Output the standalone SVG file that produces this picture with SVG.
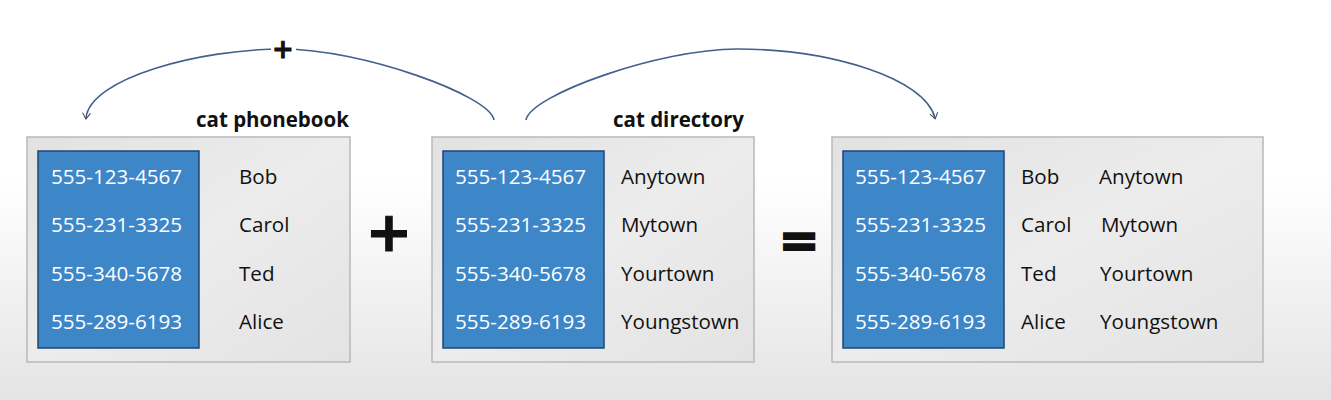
<svg xmlns="http://www.w3.org/2000/svg" width="1331" height="400" viewBox="0 0 1331 400">
<defs>
<linearGradient id="bg" x1="0" y1="0" x2="0" y2="1">
<stop offset="0" stop-color="#ffffff"/>
<stop offset="0.45" stop-color="#ffffff"/>
<stop offset="1" stop-color="#e4e4e4"/>
</linearGradient>
<linearGradient id="boxg" x1="0" y1="0" x2="1" y2="1">
<stop offset="0" stop-color="#e2e2e2"/>
<stop offset="0.5" stop-color="#ececec"/>
<stop offset="1" stop-color="#e3e3e3"/>
</linearGradient>
<marker id="arr" viewBox="0 0 12 12" refX="6" refY="6" markerWidth="12" markerHeight="12" markerUnits="userSpaceOnUse" orient="auto">
<path d="M1,2 L7,6 L1,10" fill="none" stroke="#444" stroke-width="1"/>
</marker>
<style>
.box{fill:url(#boxg);stroke:#b9b9b9;stroke-width:1.5}
.key{fill:#3d86c8;stroke:#1f4570;stroke-width:1.5}
.ph{font-family:"Open Sans","DejaVu Sans",sans-serif;font-size:20.6px;fill:#ffffff}
.tx{font-family:"Open Sans","DejaVu Sans",sans-serif;font-size:20.6px;fill:#111111}
.ttl{font-family:"Open Sans","DejaVu Sans",sans-serif;font-size:20.5px;font-weight:bold;fill:#111111}
.op{font-family:"DejaVu Sans",sans-serif;font-weight:bold;fill:#111111;stroke:#111111;text-anchor:middle}
.arc{fill:none;stroke:#41608e;stroke-width:1.6}
</style>
</defs>
<rect x="0" y="0" width="1331" height="400" fill="url(#bg)"/>

<g id="connectors">
<path class="arc" d="M494,120 C490,95 360,49 283,49 C200,49 90,78 86,118" marker-end="url(#arr)"/>
<path class="arc" d="M526,120 C530,95 660,49 737,49 C830,49 925,78 935,118" marker-end="url(#arr)"/>
<rect x="271" y="38" width="25" height="22" fill="#ffffff"/>
<text class="op" x="283" y="58" font-size="26" stroke-width="0.8">+</text>
</g>

<g id="phonebook">
<text class="ttl" x="196" y="127">cat phonebook</text>
<rect class="box" x="27" y="137" width="323" height="225"/>
<rect class="key" x="38" y="151" width="161" height="197"/>
<text class="ph" x="51" y="184">555-123-4567</text>
<text class="ph" x="51" y="232">555-231-3325</text>
<text class="ph" x="51" y="281">555-340-5678</text>
<text class="ph" x="51" y="329">555-289-6193</text>
<text class="tx" x="239" y="184">Bob</text>
<text class="tx" x="239" y="232">Carol</text>
<text class="tx" x="239" y="281">Ted</text>
<text class="tx" x="239" y="329">Alice</text>
</g>

<g id="plus-op">
<text class="op" x="389" y="251" font-size="56" stroke-width="1">+</text>
</g>

<g id="equals-op">
<text class="op" x="799" y="257" font-size="48" stroke-width="2.2">=</text>
</g>

<g id="directory">
<text class="ttl" x="613" y="127">cat directory</text>
<rect class="box" x="432" y="137" width="322" height="225"/>
<rect class="key" x="443" y="151" width="161" height="197"/>
<text class="ph" x="455" y="184">555-123-4567</text>
<text class="ph" x="455" y="232">555-231-3325</text>
<text class="ph" x="455" y="281">555-340-5678</text>
<text class="ph" x="455" y="329">555-289-6193</text>
<text class="tx" x="621" y="184">Anytown</text>
<text class="tx" x="621" y="232">Mytown</text>
<text class="tx" x="621" y="281">Yourtown</text>
<text class="tx" x="621" y="329">Youngstown</text>
</g>

<g id="result">
<rect class="box" x="832" y="137" width="431" height="225"/>
<rect class="key" x="843" y="151" width="161" height="197"/>
<text class="ph" x="855" y="184">555-123-4567</text>
<text class="ph" x="855" y="232">555-231-3325</text>
<text class="ph" x="855" y="281">555-340-5678</text>
<text class="ph" x="855" y="329">555-289-6193</text>
<text class="tx" x="1021" y="184">Bob</text>
<text class="tx" x="1021" y="232">Carol</text>
<text class="tx" x="1021" y="281">Ted</text>
<text class="tx" x="1021" y="329">Alice</text>
<text class="tx" x="1099" y="184">Anytown</text>
<text class="tx" x="1101" y="232">Mytown</text>
<text class="tx" x="1100" y="281">Yourtown</text>
<text class="tx" x="1100" y="329">Youngstown</text>
</g>
</svg>
